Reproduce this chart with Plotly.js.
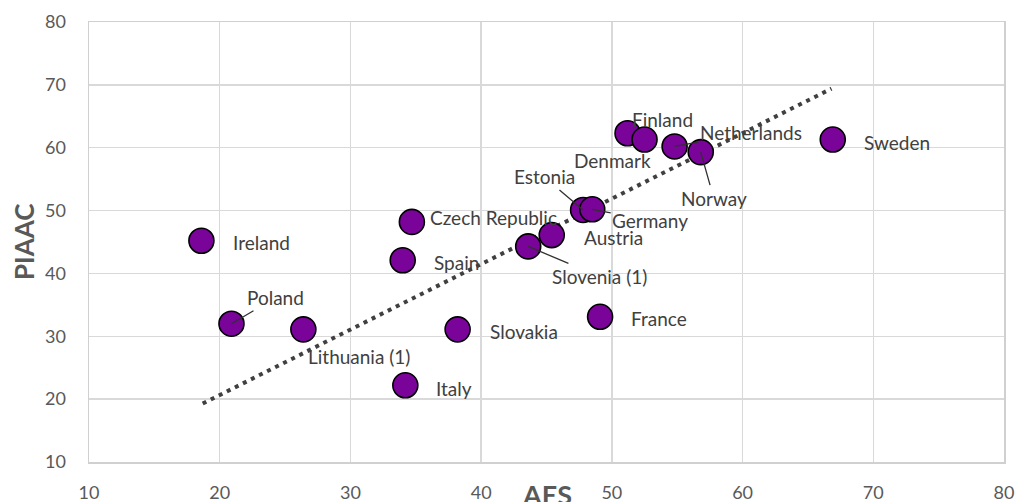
<!DOCTYPE html>
<html>
<head>
<meta charset="utf-8">
<script src="https://cdn.plot.ly/plotly-3.0.1.min.js"></script>
<style>html,body{margin:0;padding:0;background:#fff;}#chart{width:1015px;height:502px;}</style>
</head>
<body>
<div id="chart"></div>
<script>
// Data
const countries = ["Ireland","Poland","Lithuania (1)","Czech Republic","Spain","Italy","Slovakia","Slovenia (1)","France","Austria","Estonia","Germany","Finland","Denmark","Netherlands","Norway","Sweden"];
const aes   = [18.6, 20.9, 26.4, 34.7, 34.0, 34.2, 38.2, 43.6, 49.1, 45.4, 47.8, 48.5, 51.2, 52.5, 54.8, 56.8, 66.9];
const piaac = [45.2, 32.0, 31.1, 48.2, 42.1, 22.2, 31.1, 44.3, 33.1, 46.1, 50.1, 50.2, 62.3, 61.3, 60.2, 59.3, 61.3];
// Trend line end points
const trendX = [18.7, 66.8];
const trendY = [19.3, 69.4];
const xTicks = [10, 20, 30, 40, 50, 60, 70, 80];
const yTicks = [10, 20, 30, 40, 50, 60, 70, 80];

// Label placement: pixel offsets from each point (dy positive = down)
const labelPos = {
  "Ireland":        {dx: 30, dy: 2, anchor: "left"},
  "Poland":         {ax: 44, ay: -26},
  "Lithuania (1)":  {dx: 56, dy: 27, anchor: "center"},
  "Czech Republic": {dx: 16, dy: -4, anchor: "left"},
  "Spain":          {dx: 29, dy: 2, anchor: "left"},
  "Italy":          {dx: 29, dy: 3, anchor: "left"},
  "Slovakia":       {dx: 30, dy: 2, anchor: "left"},
  "Slovenia (1)":   {ax: 71, ay: 30},
  "France":         {dx: 29, dy: 2, anchor: "left"},
  "Austria":        {dx: 30, dy: 2, anchor: "left"},
  "Estonia":        {ax: -39, ay: -33},
  "Germany":        {ax: 58, ay: 11},
  "Finland":        {dx: 35, dy: -14, anchor: "center"},
  "Denmark":        {dx: -32, dy: 21, anchor: "center"},
  "Netherlands":    {ax: 76, ay: -14},
  "Norway":         {ax: 13, ay: 46},
  "Sweden":         {dx: 29, dy: 3, anchor: "left"}
};

const FONT = "Lato, 'Open Sans', sans-serif";
const TXT = "#404040";

const annotations = countries.map((c, i) => {
  const p = labelPos[c];
  const base = {x: aes[i], y: piaac[i], xref: "x", yref: "y", text: c,
    font: {family: FONT, size: 19, color: TXT}};
  if (p.ax !== undefined) {
    return Object.assign(base, {showarrow: true, ax: p.ax, ay: p.ay, axref: "pixel", ayref: "pixel",
      arrowhead: 0, arrowwidth: 1.3, arrowcolor: "#303030", standoff: 0, startstandoff: 0});
  }
  return Object.assign(base, {showarrow: false, xanchor: p.anchor, yanchor: "middle",
    xshift: p.dx, yshift: -p.dy});
});

annotations.push({xref: "paper", yref: "paper", x: 0.5, y: 0, yanchor: "top", xanchor: "center",
  yshift: -14, showarrow: false, text: "<b>AES</b>",
  font: {family: FONT, size: 27, color: "#595959"}});
annotations.push({xref: "paper", yref: "paper", x: 0, y: 0.5, xanchor: "center", yanchor: "middle",
  xshift: -65, showarrow: false, textangle: -90, text: "<b>PIAAC</b>",
  font: {family: FONT, size: 26, color: "#595959"}});

const traces = [
  {x: trendX, y: trendY, mode: "lines", type: "scatter", hoverinfo: "skip",
   line: {color: "#404040", width: 4, dash: "4px,5px"}},
  {x: aes, y: piaac, mode: "markers", type: "scatter", text: countries,
   marker: {size: 25, color: "#7A0399", line: {color: "#000", width: 1.6}}}
];

const axisCommon = {
  showgrid: true, gridcolor: "#d9d9d9", gridwidth: 1.5,
  showline: true, linecolor: "#d0d0d0", linewidth: 1.5, mirror: true,
  zeroline: false, ticks: "outside", tickcolor: "rgba(0,0,0,0)",
  tickfont: {family: FONT, size: 18, color: "#595959"}
};

const layout = {
  width: 1015, height: 502,
  margin: {l: 88.5, r: 11, t: 22, b: 40},
  paper_bgcolor: "#fff", plot_bgcolor: "#fff",
  showlegend: false,
  xaxis: Object.assign({}, axisCommon, {range: [10, 80], tickvals: xTicks, ticklen: 14}),
  yaxis: Object.assign({}, axisCommon, {range: [10, 80], tickvals: yTicks, ticklen: 18}),
  annotations: annotations
};

Plotly.newPlot("chart", traces, layout, {displayModeBar: false, staticPlot: true});
</script>
</body>
</html>
